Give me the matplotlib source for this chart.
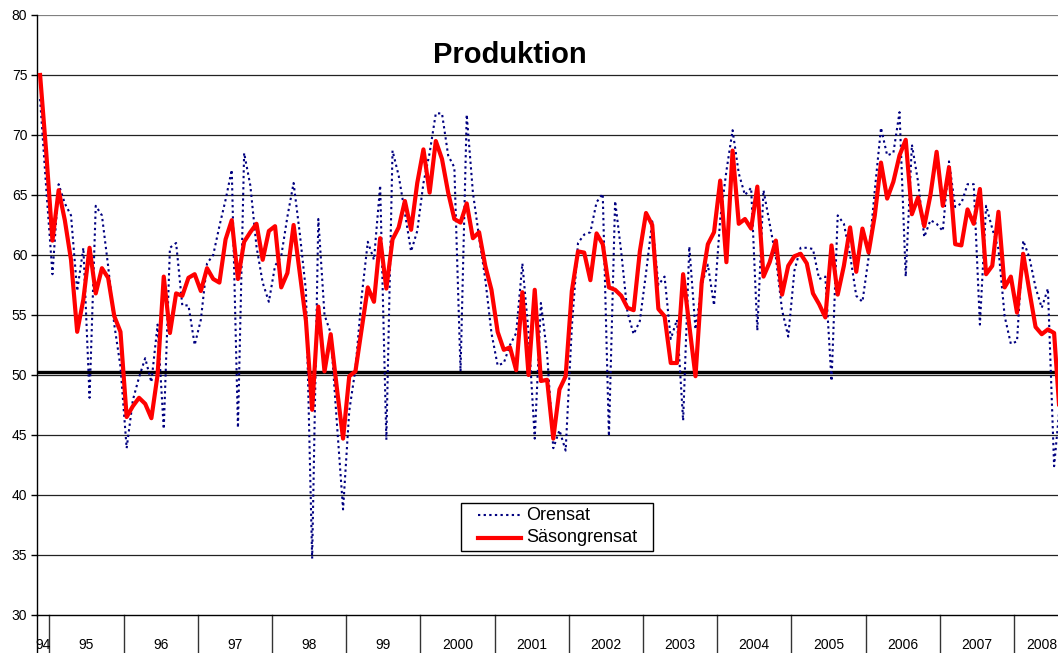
import numpy as np
import matplotlib
matplotlib.use("Agg")
import matplotlib.pyplot as plt
from matplotlib.lines import Line2D
from matplotlib.patches import Rectangle

plt.rcParams['font.family'] = ['Liberation Sans', 'DejaVu Sans']

# Monthly data, first month = Nov 1994
orensat = [
    73.0, 65.5, 58.4, 65.9, 64.3, 63.3, 57.0, 60.6, 48.1, 64.1, 63.3, 59.1,
    54.2, 50.7, 43.9, 47.9, 49.8, 51.4, 49.4, 54.2, 45.5, 60.6, 61.0, 55.8,
    55.8, 52.5, 54.6, 59.3, 60.0, 62.4, 64.6, 67.1, 45.6, 68.5, 65.8, 60.7,
    57.7, 56.1, 59.1, 59.9, 63.2, 66.0, 61.8, 57.0, 34.7, 63.0, 55.0, 53.5,
    46.0, 38.8, 47.0, 50.5, 56.5, 61.1, 59.6, 65.8, 44.6, 68.7, 66.6, 63.5,
    60.3, 62.0, 66.0, 68.5, 71.8, 71.8, 68.3, 67.3, 50.3, 71.7, 65.2, 61.5,
    58.0, 53.5, 50.8, 51.0, 52.5, 53.5, 59.3, 53.5, 44.7, 56.0, 51.8, 43.9,
    45.4, 43.7, 54.0, 61.0, 61.7, 61.9, 64.4, 65.1, 44.9, 64.5, 60.2, 55.2,
    53.4, 54.5, 58.5, 62.8, 57.5, 58.2, 53.0, 54.6, 46.2, 60.7, 53.8, 57.5,
    59.2, 55.8, 63.0, 67.0, 70.4, 66.8, 65.0, 65.6, 53.7, 65.4, 62.6, 59.8,
    55.4, 53.2, 58.7, 60.6, 60.6, 60.5, 58.0, 58.2, 49.5, 63.3, 62.6, 60.0,
    56.6, 56.1, 59.8, 65.4, 70.6, 68.3, 68.5, 71.9, 58.2, 69.2, 66.1, 61.5,
    62.9, 62.6, 62.0, 67.8, 64.0, 64.3, 65.9, 65.9, 54.2, 64.1, 62.2, 60.5,
    54.9, 52.6, 52.8, 61.2, 59.8, 57.3, 55.6, 57.2, 42.4, 48.0,
]
sasongrensat = [
    75.0, 68.5, 61.2, 65.4, 62.9, 59.6, 53.6, 56.3, 60.6, 56.8, 58.9, 58.1,
    54.9, 53.6, 46.5, 47.4, 48.1, 47.6, 46.4, 50.0, 58.2, 53.5, 56.8, 56.6,
    58.1, 58.4, 57.0, 58.9, 58.0, 57.7, 61.3, 62.9, 58.0, 61.1, 61.9, 62.6,
    59.6, 62.0, 62.4, 57.3, 58.5, 62.5, 58.5, 54.5, 47.1, 55.7, 50.3, 53.4,
    48.9, 44.7, 49.9, 50.3, 53.8, 57.3, 56.1, 61.4, 57.2, 61.3, 62.3, 64.5,
    62.1, 66.0, 68.8, 65.2, 69.5, 68.0, 65.2, 63.0, 62.7, 64.3, 61.4, 61.9,
    59.1, 57.1, 53.6, 52.1, 52.3, 50.4, 56.9, 50.0, 57.1, 49.5, 49.6, 44.7,
    48.8, 49.9, 57.0, 60.3, 60.2, 57.9, 61.8, 60.9, 57.3, 57.1, 56.6, 55.6,
    55.4, 60.3, 63.5, 62.5, 55.5, 54.9, 51.0, 51.0, 58.4, 54.1, 49.9, 57.7,
    60.9, 61.9, 66.2, 59.4, 68.7, 62.6, 63.0, 62.2, 65.7, 58.2, 59.4, 61.2,
    56.7, 59.1, 59.9, 60.1, 59.3, 56.8, 55.9, 54.8, 60.8, 56.7, 59.1, 62.3,
    58.6, 62.2, 60.2, 63.3, 67.7, 64.7, 66.1, 68.3, 69.6, 63.4, 64.8, 62.4,
    65.0, 68.6, 64.1, 67.3, 60.9, 60.8, 63.8, 62.6, 65.5, 58.4, 59.1, 63.6,
    57.3, 58.2, 55.2, 60.1, 57.0, 54.0, 53.4, 53.8, 53.5, 46.0,
]
year_labels = ['94', '95', '96', '97', '98', '99', '2000', '2001', '2002',
               '2003', '2004', '2005', '2006', '2007', '2008']
months_in_year = [2] + [12] * 13 + [9]
reference_level = 50.25

W, H = 1058, 653
fig = plt.figure(figsize=(W / 100, H / 100), dpi=100)
left_px, top_px, bottom_px = 37, 15, 615
ax = fig.add_axes([left_px / W, (H - bottom_px) / H, (W - left_px) / W,
                   (bottom_px - top_px) / H])

x = np.arange(len(orensat))
month_px = 6.183
ax.set_xlim(-0.5, -0.5 + (W - left_px) / month_px)
ax.set_ylim(30, 80)

# gridlines
for v in range(35, 81, 5):
    ax.axhline(v, color='#808080' if v == 80 else '#222222',
               lw=1.6 if v == 80 else 0.9, zorder=1)
ax.axhline(reference_level, color='black', lw=2.4, zorder=2)

blue_style = dict(color='#000080', lw=1.5, linestyle=(0, (1.1, 1.6)))
red_style = dict(color='#ff0000', lw=3.0)
ax.plot(x, orensat, zorder=3, **blue_style)
ax.plot(x, sasongrensat, zorder=4, **red_style)

# axes styling
for s in ['top', 'right']:
    ax.spines[s].set_visible(False)
ax.spines['left'].set_color('black')
ax.spines['bottom'].set_color('black')
ax.spines['left'].set_linewidth(1.0)
ax.spines['bottom'].set_linewidth(1.0)
ax.set_yticks(range(30, 81, 5))
ax.tick_params(axis='y', length=4, width=1, labelsize=10, pad=3,
               colors='black')
ax.set_xticks([])

# category axis: year groups
trans = ax.get_xaxis_transform()
ylow = -(H - bottom_px) / (bottom_px - top_px)
ylab = -(645 - bottom_px) / (bottom_px - top_px)
start = -0.5
ax.plot([start, start], [0, ylow], transform=trans, color='black', lw=1.0,
        clip_on=False)
for lab, n in zip(year_labels, months_in_year):
    end = start + n
    ax.text((start + end) / 2, ylab, lab, transform=trans, ha='center',
            va='center', fontsize=10, color='black', clip_on=False)
    if lab != year_labels[-1]:
        ax.plot([end, end], [0, ylow], transform=trans, color='#333333',
                lw=1.0, clip_on=False)
    start = end

ax.text(0.463, 0.933, 'Produktion', transform=ax.transAxes, ha='center',
        va='center', fontsize=21, fontweight='bold')

# legend box (pixel layout of the reference converted to axes fraction)
def fx(px):
    return (px - left_px) / (W - left_px)

def fy(py):
    return (bottom_px - py) / (bottom_px - top_px)

ax.add_patch(Rectangle((fx(461), fy(551)), fx(653) - fx(461),
                       fy(503) - fy(551), transform=ax.transAxes,
                       facecolor='white', edgecolor='black', lw=1.0,
                       zorder=10))
for label, style, py in [('Orensat', blue_style, 515),
                         ('Säsongrensat', red_style, 538)]:
    ax.add_line(Line2D([fx(478), fx(521)], [fy(py), fy(py)],
                       transform=ax.transAxes, zorder=11, **style))
    ax.text(fx(526), fy(py), label, transform=ax.transAxes, ha='left',
            va='center', fontsize=13, zorder=12)

fig.savefig('out.png', dpi=100)
